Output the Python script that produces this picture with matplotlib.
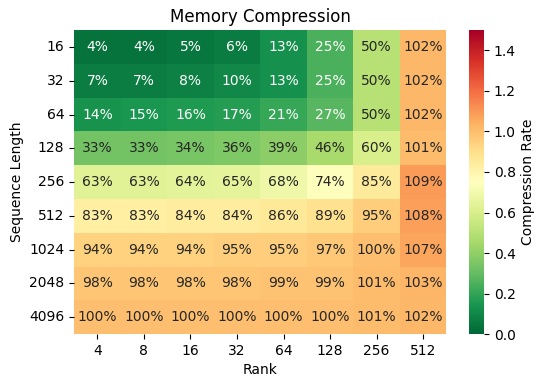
import numpy as np
import matplotlib
matplotlib.use("Agg")
import matplotlib.pyplot as plt
import seaborn as sns

seq_lengths = [16, 32, 64, 128, 256, 512, 1024, 2048, 4096]
ranks = [4, 8, 16, 32, 64, 128, 256, 512]

# compression rate in percent, rows = sequence length, cols = rank
r16   = [4, 4, 5, 6, 13, 25, 50, 102]
r32   = [7, 7, 8, 10, 13, 25, 50, 102]
r64   = [14, 15, 16, 17, 21, 27, 50, 102]
r128  = [33, 33, 34, 36, 39, 46, 60, 101]
r256  = [63, 63, 64, 65, 68, 74, 85, 109]
r512  = [83, 83, 84, 84, 86, 89, 95, 108]
r1024 = [94, 94, 94, 95, 95, 97, 100, 107]
r2048 = [98, 98, 98, 98, 99, 99, 101, 103]
r4096 = [100, 100, 100, 100, 100, 100, 101, 102]

pct = np.array([r16, r32, r64, r128, r256, r512, r1024, r2048, r4096])
rate = pct / 100.0
labels = np.array([[f"{v}%" for v in row] for row in pct])

fig = plt.figure(figsize=(5.45, 3.85), dpi=100)
ax = fig.add_axes([0.136, 0.132, 0.683, 0.79])
cax = fig.add_axes([0.861, 0.132, 0.027, 0.79])
sns.heatmap(rate, ax=ax, cbar_ax=cax, cmap="RdYlGn_r", vmin=0, vmax=1.5,
            annot=labels, fmt="", annot_kws={"fontsize": 10},
            xticklabels=ranks, yticklabels=seq_lengths,
            cbar_kws={"label": "Compression Rate"})
ax.set_yticklabels(seq_lengths, rotation=0)
ax.set_xlabel("Rank")
ax.set_ylabel("Sequence Length")
ax.set_title("Memory Compression")
fig.savefig("out.png", dpi=100)
